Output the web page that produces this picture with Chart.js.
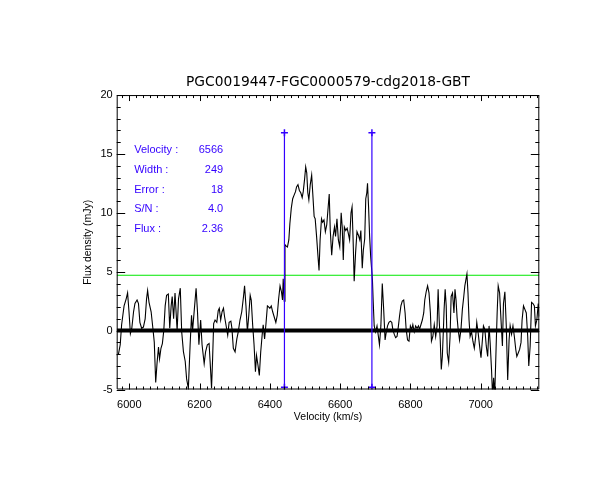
<!DOCTYPE html>
<html>
<head>
<meta charset="utf-8">
<script src="https://cdn.jsdelivr.net/npm/chart.js@4.4.1/dist/chart.umd.min.js"></script>
<style>
  html, body { margin: 0; padding: 0; background: #fff; }
  canvas { display: block; }
</style>
</head>
<body>
<canvas id="spec" width="612" height="500"></canvas>
<script>
// spectrum: velocity (km/s) and flux density (mJy)
var velocity = [
  5959, 5969, 5974, 5978, 5985, 5991, 5995, 5999, 6003, 6007, 6012, 6016, 6022, 6026, 6030,
  6035, 6040, 6045, 6049, 6052, 6056, 6062, 6067, 6071, 6075, 6079, 6083, 6086, 6090, 6094,
  6098, 6102, 6106, 6111, 6115, 6119, 6122, 6126, 6130, 6136, 6140, 6145, 6149, 6154, 6159,
  6163, 6168, 6173, 6177, 6180, 6185, 6190, 6194, 6198, 6203, 6207, 6213, 6217, 6222, 6227,
  6231, 6234, 6237, 6240, 6244, 6249, 6253, 6256, 6260, 6264, 6268, 6271, 6275, 6280, 6284,
  6289, 6292, 6296, 6301, 6306, 6310, 6315, 6320, 6325, 6328, 6332, 6336, 6340, 6344, 6347,
  6351, 6355, 6359, 6362, 6366, 6370, 6374, 6378, 6381, 6385, 6389, 6393, 6397, 6400, 6404,
  6408, 6412, 6417, 6421, 6425, 6429, 6433, 6436, 6438, 6441, 6443, 6446, 6450, 6454, 6457,
  6461, 6465, 6469, 6473, 6476, 6480, 6484, 6488, 6492, 6495, 6499, 6502, 6505, 6508, 6511,
  6515, 6519, 6522, 6526, 6529, 6533, 6537, 6540, 6543, 6547, 6550, 6554, 6558, 6562, 6566,
  6569, 6572, 6576, 6580, 6584, 6587, 6591, 6595, 6599, 6603, 6606, 6609, 6612, 6616, 6620,
  6623, 6627, 6631, 6634, 6637, 6640, 6644, 6648, 6652, 6656, 6659, 6663, 6666, 6670, 6673,
  6676, 6678, 6681, 6684, 6687, 6692, 6694, 6697, 6701, 6705, 6709, 6712, 6716, 6720, 6724,
  6728, 6731, 6735, 6739, 6743, 6747, 6750, 6754, 6758, 6762, 6766, 6769, 6773, 6777, 6781,
  6785, 6788, 6792, 6796, 6800, 6804, 6807, 6811, 6815, 6819, 6823, 6826, 6830, 6834, 6838,
  6841, 6845, 6849, 6853, 6857, 6860, 6864, 6868, 6872, 6876, 6879, 6882, 6885, 6888, 6891,
  6894, 6896, 6899, 6902, 6905, 6909, 6913, 6916, 6920, 6924, 6927, 6930, 6933, 6936, 6940,
  6944, 6948, 6952, 6955, 6958, 6961, 6964, 6967, 6970, 6974, 6978, 6982, 6986, 6989, 6993,
  6997, 7001, 7005, 7008, 7012, 7016, 7020, 7024, 7027, 7031, 7034, 7037, 7040, 7044, 7047,
  7050, 7054, 7058, 7062, 7065, 7069, 7073, 7077, 7081, 7084, 7088, 7092, 7096, 7100, 7103,
  7107, 7111, 7115, 7118, 7122, 7126, 7130, 7134, 7137, 7141, 7145, 7149, 7153, 7156, 7160,
  7164, 7167, 7170
];
var flux = [
  -2.1, -2.0, -1.2, 0.5, 2.1, 2.7, 3.2, 1.6, -0.25, 0.2, 1.6, 2.3, 2.6, 2.3, 0.7,
  0.2, 0.3, 1.0, 2.7, 3.4, 2.4, 1.6, 0.2, -1.0, -4.4, -2.7, -1.4, -2.4, -1.5, -1.1,
  0.0, 2.1, 3.0, 3.1, 0.2, 2.1, 2.9, 1.0, 3.2, 0.0, 2.7, 3.6, -0.1, -1.8, -2.6,
  -4.1, -4.9, -1.2, 1.3, 0.0, 1.8, 3.6, 1.6, -1.2, 0.9, -1.2, -2.8, -1.8, -1.2, -1.1,
  -3.2, -4.9, -2.4, 0.6, 0.9, 0.7, 1.7, 1.9, 0.9, 1.6, 1.9, 1.2, 0.5, -0.4, 0.7,
  0.8, 0.2, -1.5, -1.8, -0.7, -0.1, 0.9, 1.6, 2.9, 3.8, 2.1, -0.1, 1.3, 3.0, 2.6,
  0.5, -1.2, -3.5, -2.1, -2.9, -3.8, -1.8, -0.4, 0.5, -0.7, 0.6, 2.1, 2.0, 1.9, 2.1,
  1.6, 1.2, 0.7, 1.3, 2.7, 3.8, 3.3, 2.6, 4.4, 2.5, 7.3, 7.2, 7.1, 7.7, 9.1,
  10.4, 11.2, 11.5, 11.8, 12.2, 12.4, 11.9, 11.7, 11.3, 11.8, 12.9, 13.9, 13.4, 11.7, 11.1,
  12.4, 13.2, 11.7, 9.7, 9.5, 8.0, 6.3, 5.1, 7.7, 9.5, 9.2, 9.4, 8.4, 9.0, 10.5,
  11.6, 8.5, 6.4, 8.0, 8.8, 8.0, 9.5, 7.7, 7.1, 10.0, 8.8, 6.0, 8.8, 8.5, 8.7,
  8.3, 7.7, 10.0, 10.5, 7.7, 4.2, 6.6, 8.4, 8.1, 7.7, 8.5, 5.3, 6.8, 7.8, 11.2,
  11.7, 12.5, 10.5, 8.0, 6.3, 4.3, 2.6, 0.4, -0.1, 0.4, -0.5, -1.2, 0.4, 4.0, 1.8,
  -0.8, -0.2, 0.4, 0.7, 0.8, 0.7, 0.1, -0.3, -0.6, -0.5, 0.4, 1.2, 2.1, 2.5, 2.6,
  1.5, 0.1, -0.8, -0.9, 0.4, 0.1, 0.5, -0.1, 0.4, 0.2, 0.4, 0.1, 0.5, 0.9, 1.5,
  2.6, 3.3, 3.8, 3.2, 1.5, -0.9, -0.5, 0.5, -0.5, 0.4, 3.5, 0.9, -0.8, -3.3, -2.2,
  0.1, 1.8, 3.5, 2.1, -1.9, -2.7, -0.5, 2.9, 3.2, 1.5, 3.5, 2.6, 1.1, 0.1, -0.8,
  0.1, 1.8, 2.9, 3.8, 4.3, 4.8, 3.2, 0.9, -0.5, -0.1, -0.9, -1.5, -0.5, 0.7, -0.2,
  -1.3, -2.3, -0.8, 0.4, 0.1, -1.3, -2.2, 0.4, -1.0, -3.3, -5.6, -4.0, -5.6, -1.5, 1.5,
  3.8, 3.2, 0.9, -1.3, 2.3, 3.3, 0.4, -4.2, -0.8, 0.4, -0.3, 0.4, -0.5, -1.6, -2.2,
  -1.9, -1.6, -1.0, 0.9, 2.1, 1.8, 1.5, -0.5, -3.0, -1.3, 2.4, 2.3, 2.1, 0.4, 0.9,
  2.3, 1.2, 1.5
];

var xRange = [5964, 7167];
var yRange = [-5, 20];
var xTickLabels = [6000, 6200, 6400, 6600, 6800, 7000];
var yTickLabels = [-5, 0, 5, 10, 15, 20];

var titleText = "PGC0019447-FGC0000579-cdg2018-GBT";
var statLabels = ["Velocity :", "Width :", "Error :", "S/N :", "Flux :"];
var statValues = ["6566", "249", "18", "4.0", "2.36"];

var centreVel = 6566;
var widthVel = 249;
var markTop = 16.8;
var markBottom = -4.8;
var levelLine = 4.7;

var edgeLo = centreVel - widthVel / 2;
var edgeHi = centreVel + widthVel / 2;

var blue = "#3300ff";
var green = "#00e800";

var specPoints = velocity.map(function (v, i) { return { x: v, y: flux[i] }; });

// IDL style frame: box with inward ticks on all four sides, plus the text panel
var idlFrame = {
  id: "idlFrame",
  afterDatasetsDraw: function (chart) {
    var ctx = chart.ctx;
    var a = chart.chartArea;
    var xs = chart.scales.x;
    var ys = chart.scales.y;
    ctx.save();
    ctx.strokeStyle = "#000";
    ctx.lineWidth = 1;
    ctx.beginPath();
    ctx.rect(a.left + 0.5, a.top + 0.5, a.right - a.left - 1, a.bottom - a.top - 1);
    ctx.stroke();

    ctx.beginPath();
    for (var v = 5960; v <= xRange[1]; v += 20) {
      if (v < xRange[0]) continue;
      var px = Math.round(xs.getPixelForValue(v)) + 0.5;
      var len = (v % 200 === 0) ? 6 : 3;
      ctx.moveTo(px, a.bottom);
      ctx.lineTo(px, a.bottom - len);
      ctx.moveTo(px, a.top);
      ctx.lineTo(px, a.top + len);
    }
    for (var f = yRange[0]; f <= yRange[1]; f += 1) {
      var py = Math.round(ys.getPixelForValue(f)) + 0.5;
      var l2 = (f % 5 === 0) ? 8.5 : 4;
      ctx.moveTo(a.left, py);
      ctx.lineTo(a.left + l2, py);
      ctx.moveTo(a.right, py);
      ctx.lineTo(a.right - l2, py);
    }
    ctx.stroke();

    ctx.fillStyle = blue;
    ctx.font = "11px 'Liberation Sans'";
    ctx.textBaseline = "middle";
    for (var i = 0; i < statLabels.length; i++) {
      var ty = a.top + 55 + i * 19.8;
      ctx.textAlign = "left";
      ctx.fillText(statLabels[i], a.left + 17.5, ty);
      ctx.textAlign = "right";
      ctx.fillText(statValues[i], a.left + 106.5, ty);
    }
    ctx.restore();
  }
};

new Chart(document.getElementById("spec"), {
  type: "scatter",
  data: {
    datasets: [
      {
        data: [{ x: xRange[0], y: 0 }, { x: xRange[1], y: 0 }],
        showLine: true, borderColor: "#000", borderWidth: 4, pointRadius: 0, order: 1
      },
      {
        data: specPoints,
        showLine: true, borderColor: "#000", borderWidth: 1.1, pointRadius: 0, tension: 0, order: 2
      },
      {
        data: [{ x: xRange[0], y: levelLine }, { x: xRange[1], y: levelLine }],
        showLine: true, borderColor: green, borderWidth: 1, pointRadius: 0, order: 3
      },
      {
        data: [{ x: edgeLo, y: markTop }, { x: edgeLo, y: markBottom }],
        showLine: true, borderColor: blue, borderWidth: 1.2,
        pointStyle: "cross", pointRadius: 3.5, pointBorderWidth: 1.5, pointBorderColor: blue, order: 0
      },
      {
        data: [{ x: edgeHi, y: markTop }, { x: edgeHi, y: markBottom }],
        showLine: true, borderColor: blue, borderWidth: 1.2,
        pointStyle: "cross", pointRadius: 3.5, pointBorderWidth: 1.5, pointBorderColor: blue, order: 0
      }
    ]
  },
  options: {
    responsive: false,
    animation: false,
    events: [],
    layout: { padding: { left: 0, right: 72.7, top: 0, bottom: 0 } },
    plugins: {
      legend: { display: false },
      tooltip: { enabled: false },
      title: {
        display: true,
        fullSize: false,
        text: titleText,
        color: "#000",
        font: { family: "DejaVu Sans", size: 13.8, weight: "normal" },
        padding: { top: 74.5, bottom: 4 }
      }
    },
    scales: {
      x: {
        type: "linear",
        min: xRange[0],
        max: xRange[1],
        grid: { display: false, drawTicks: false },
        border: { display: false },
        afterBuildTicks: function (s) { s.ticks = xTickLabels.map(function (v) { return { value: v }; }); },
        afterFit: function (s) { s.height = 110.5; },
        ticks: {
          color: "#000", padding: 8.5, maxRotation: 0,
          font: { family: "Liberation Sans", size: 11 },
          callback: function (v) { return String(v); }
        },
        title: {
          display: true, text: "Velocity (km/s)", color: "#000",
          font: { family: "Liberation Sans", size: 10.5 },
          padding: { top: 0, bottom: 76.7 }
        }
      },
      y: {
        type: "linear",
        min: yRange[0],
        max: yRange[1],
        grid: { display: false, drawTicks: false },
        border: { display: false },
        afterBuildTicks: function (s) { s.ticks = yTickLabels.map(function (v) { return { value: v }; }); },
        afterFit: function (s) { s.width = 116.7; },
        ticks: {
          color: "#000", padding: 4,
          font: { family: "Liberation Sans", size: 11 },
          callback: function (v) { return String(v); }
        },
        title: {
          display: true, text: "Flux density (mJy)", color: "#000",
          font: { family: "Liberation Sans", size: 10.5 },
          padding: { top: 81.7, bottom: 0 }
        }
      }
    }
  },
  plugins: [idlFrame]
});
</script>
</body>
</html>
